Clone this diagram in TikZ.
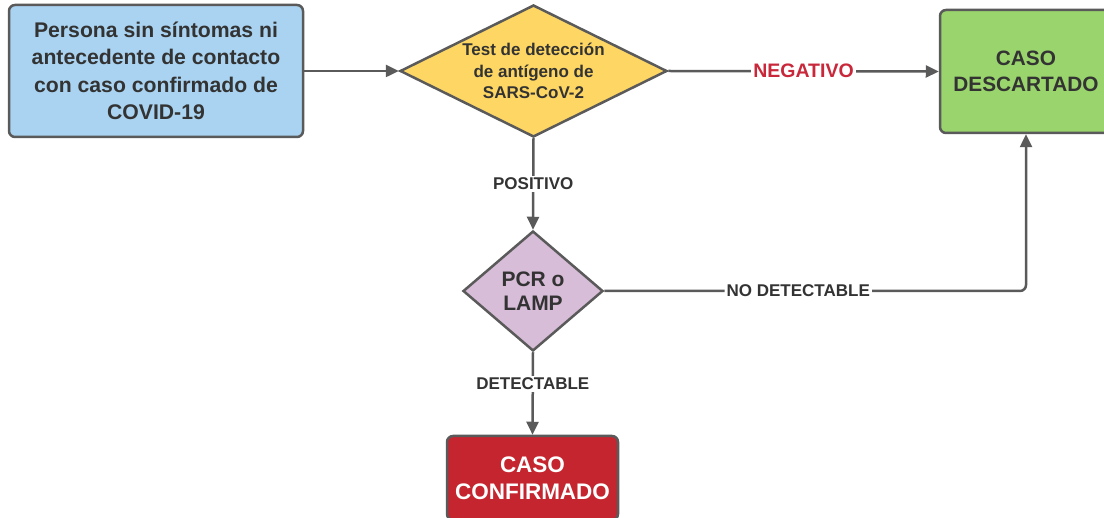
\documentclass[tikz,border=0pt]{standalone}
\usepackage{fontspec}
\setmainfont{Liberation Sans}
\usetikzlibrary{shapes.geometric,arrows.meta}
\definecolor{edgegray}{HTML}{5A5A5A}
\definecolor{txtgray}{HTML}{333333}
\definecolor{blueF}{HTML}{A9D3F1}
\definecolor{yellowF}{HTML}{FDD663}
\definecolor{greenF}{HTML}{9AD46C}
\definecolor{purpleF}{HTML}{D7BDD7}
\definecolor{redF}{HTML}{C5252F}
\definecolor{negred}{HTML}{C8283A}
\begin{document}
\begin{tikzpicture}[x=1pt,y=-1pt,
  box/.style={draw=edgegray, line width=2.5pt, rounded corners=6pt, align=center, inner sep=0pt, text=txtgray},
  dia/.style={diamond, draw=edgegray, line width=2.5pt, align=center, inner sep=0pt, text=txtgray},
  conn/.style={draw=edgegray, line width=2.5pt, -{Triangle[length=13pt,width=12pt]}},
  lbl/.style={fill=white, inner sep=2pt, text=txtgray, font=\bfseries\fontsize{17}{19}\selectfont}]
\useasboundingbox (0,0) rectangle (1104,518);
\node[box, fill=blueF, minimum width=294pt, minimum height=132pt, font=\bfseries\fontsize{21.2}{27.5}\selectfont] (start) at (156,71)
  {Persona sin síntomas ni\\antecedente de contacto\\con caso confirmado de\\COVID-19};
\node[dia, fill=yellowF, aspect=2, minimum width=267pt, minimum height=132pt, font=\bfseries\fontsize{17}{21.7}\selectfont] (test) at (533.5,71)
  {Test de detección\\de antígeno de\\SARS-CoV-2};
\node[box, fill=greenF, minimum width=172pt, minimum height=123pt, font=\bfseries\fontsize{20.8}{26}\selectfont] (desc) at (1026,71.5)
  {CASO\\DESCARTADO};
\node[dia, fill=purpleF, minimum width=140pt, minimum height=120pt, font=\bfseries\fontsize{21}{24}\selectfont] (pcr) at (533,291)
  {PCR o\\LAMP};
\node[box, fill=redF, text=white, minimum width=171pt, minimum height=84pt, font=\bfseries\fontsize{22.5}{27}\selectfont] (conf) at (532.5,478)
  {CASO\\CONFIRMADO};
\draw[conn] (start.east) -- (test.west);
\draw[conn] (test.east) -- node[lbl, text=negred, font=\bfseries\fontsize{19.5}{21}\selectfont] {NEGATIVO} (desc.west);
\draw[conn] (test.south) -- node[lbl, pos=0.5] {POSITIVO} (pcr.north);
\draw[conn] (pcr.south) -- node[lbl, pos=0.38] {DETECTABLE} (conf.north);
\coordinate (corner) at (desc.south |- pcr.east);
\draw[conn, rounded corners=6pt] (pcr.east) -- node[lbl, pos=0.46] {NO DETECTABLE} (corner) -- (desc.south);
\end{tikzpicture}
\end{document}
